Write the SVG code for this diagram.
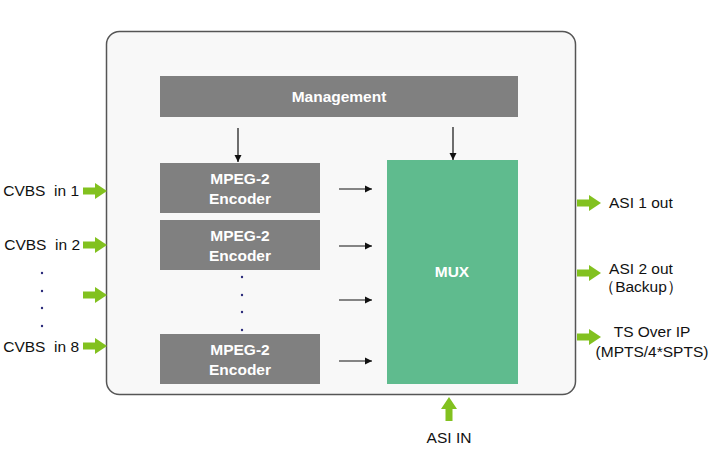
<svg xmlns="http://www.w3.org/2000/svg" width="710" height="456" viewBox="0 0 710 456">
<defs>
<style>
.gray{fill:#808080}
.wt{fill:#fff;font-family:"Liberation Sans",Arial,sans-serif;font-weight:bold;font-size:15.5px;text-anchor:middle}
.lb{fill:#111;font-family:"Liberation Sans",Arial,sans-serif;font-size:15.5px}
.ln{stroke:#111;stroke-width:1.2;fill:none}
.ga{fill:#82c11f}
.dot{fill:#2a2a7a}
</style>
<marker id="ah" markerWidth="8" markerHeight="8" refX="7" refY="4" orient="auto" markerUnits="userSpaceOnUse">
<path d="M0,0.5 L7,4 L0,7.5 Z" fill="#111"/>
</marker>
<path id="garrow" d="M0,-3.5 L12,-3.5 L12,-8 L24,0 L12,8 L12,3.5 L0,3.5 Z"/>
</defs>
<rect x="0" y="0" width="710" height="456" fill="#fff"/>
<g id="frame"><rect x="106.5" y="31.5" width="469" height="363" rx="13" fill="#f8f8f8" stroke="#555" stroke-width="1.5"/></g>
<g id="management"><rect class="gray" x="160" y="76" width="358" height="41"/><text class="wt" x="339" y="102">Management</text></g>
<g id="enc1"><rect class="gray" x="160" y="163" width="160" height="50"/><text class="wt" x="240" y="184">MPEG-2</text><text class="wt" x="240" y="204">Encoder</text></g>
<g id="enc2"><rect class="gray" x="160" y="220" width="160" height="50"/><text class="wt" x="240" y="241">MPEG-2</text><text class="wt" x="240" y="261">Encoder</text></g>
<g id="enc8"><rect class="gray" x="160" y="334" width="160" height="50"/><text class="wt" x="240" y="355">MPEG-2</text><text class="wt" x="240" y="375">Encoder</text></g>
<g id="mux"><rect x="387" y="160" width="131" height="224" fill="#5fbb8e"/><text class="wt" x="452" y="277">MUX</text></g>
<g id="dots">
<circle class="dot" cx="242" cy="277" r="1.2"/><circle class="dot" cx="242" cy="295" r="1.2"/><circle class="dot" cx="242" cy="312" r="1.2"/><circle class="dot" cx="242" cy="330" r="1.2"/>
<circle class="dot" cx="42" cy="273" r="1.2"/><circle class="dot" cx="42" cy="291" r="1.2"/><circle class="dot" cx="42" cy="308" r="1.2"/><circle class="dot" cx="42" cy="326" r="1.2"/>
</g>
<g id="connectors">
<line class="ln" x1="238" y1="128" x2="238" y2="162" marker-end="url(#ah)"/>
<line class="ln" x1="453" y1="127" x2="453" y2="160" marker-end="url(#ah)"/>
<line class="ln" x1="339" y1="189" x2="372" y2="189" marker-end="url(#ah)"/>
<line class="ln" x1="339" y1="246" x2="372" y2="246" marker-end="url(#ah)"/>
<line class="ln" x1="339" y1="300" x2="372" y2="300" marker-end="url(#ah)"/>
<line class="ln" x1="339" y1="361" x2="372" y2="361" marker-end="url(#ah)"/>
<use href="#garrow" class="ga" transform="translate(83,191)"/>
<use href="#garrow" class="ga" transform="translate(83,245)"/>
<use href="#garrow" class="ga" transform="translate(83,295)"/>
<use href="#garrow" class="ga" transform="translate(83,346)"/>
<use href="#garrow" class="ga" transform="translate(577,203)"/>
<use href="#garrow" class="ga" transform="translate(577,273)"/>
<use href="#garrow" class="ga" transform="translate(577,337)"/>
<use href="#garrow" class="ga" transform="translate(449,421) rotate(-90)"/>
</g>
<g id="labels">
<text class="lb" x="79" y="196" text-anchor="end" xml:space="preserve">CVBS  in 1</text>
<text class="lb" x="80" y="250" text-anchor="end" xml:space="preserve">CVBS  in 2</text>
<text class="lb" x="79" y="352" text-anchor="end" xml:space="preserve">CVBS  in 8</text>
<text class="lb" x="609" y="208">ASI 1 out</text>
<text class="lb" x="641" y="274" text-anchor="middle">ASI 2 out</text>
<text class="lb" x="641" y="292" text-anchor="middle">（Backup）</text>
<text class="lb" x="652" y="337" text-anchor="middle">TS Over IP</text>
<text class="lb" x="652" y="357" text-anchor="middle">(MPTS/4*SPTS)</text>
<text class="lb" x="449" y="443" text-anchor="middle">ASI IN</text>
</g>
</svg>
